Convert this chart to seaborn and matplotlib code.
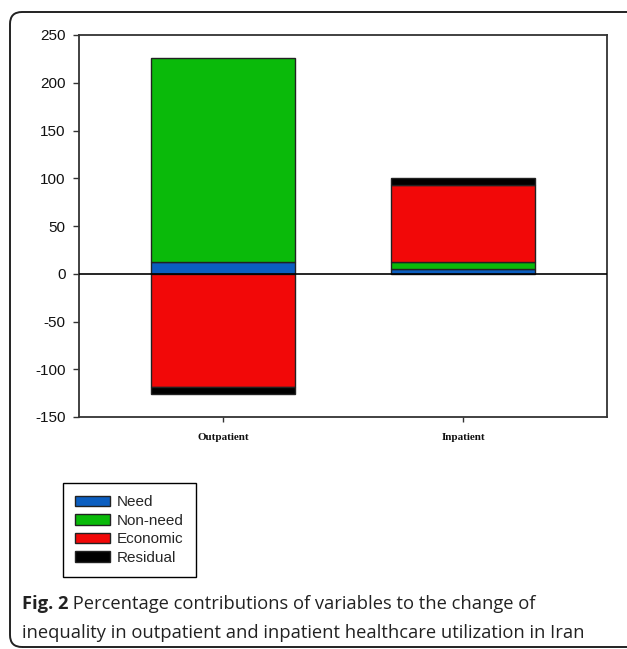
import pandas as pd
import matplotlib
matplotlib.use("Agg")
import matplotlib.pyplot as plt
from matplotlib.patches import Patch, FancyBboxPatch
import seaborn as sns

# values (percentage contributions)
services = ["Outpatient", "Inpatient"]
need = [12, 5]
non_need = [214, 7]
economic = [-119, 81]
residual = [-7, 7]

components = ["Need", "Non-need", "Economic", "Residual"]
colours = ["#0B5EC0", "#0ABA0A", "#F20808", "#000000"]
y_ticks = [-150, -100, -50, 0, 50, 100, 150, 200, 250]
caption_bold = "Fig. 2"
caption_line1 = " Percentage contributions of variables to the change of"
caption_line2 = "inequality in outpatient and inpatient healthcare utilization in Iran"

W, H = 627, 649


def main():
    df = pd.DataFrame({"service": services, "Need": need, "Non-need": non_need,
                       "Economic": economic, "Residual": residual})
    long = df.melt(id_vars="service", var_name="component", value_name="value")

    # stack positives upward and negatives downward
    long["bottom"] = 0.0
    for s in services:
        pos, neg = 0.0, 0.0
        for idx in long.index[long["service"] == s]:
            v = long.at[idx, "value"]
            if v >= 0:
                long.at[idx, "bottom"] = pos
                pos += v
            else:
                long.at[idx, "bottom"] = neg
                neg += v

    sns.set_style("white")
    plt.rcParams["axes.unicode_minus"] = False
    fig = plt.figure(figsize=(W / 100, H / 100), dpi=100)
    ax = fig.add_axes([79 / W, 1 - 417 / H, (607 - 79) / W, (417 - 35) / H])

    for comp, col in zip(components, colours):
        sub = long[long["component"] == comp]
        sns.barplot(data=sub, x="service", y="value", order=services,
                    bottom=sub["bottom"].values, color=col, width=0.6,
                    errorbar=None, edgecolor="#222222", linewidth=1.0,
                    saturation=1, ax=ax, zorder=2)

    ax.axhline(0, color="black", lw=1.2, zorder=3)
    ax.set_xlim(-0.6, 1.6)
    ax.set_ylim(-150, 250)
    ax.set_yticks(y_ticks)
    ax.set_xlabel("")
    ax.set_ylabel("")

    for sp in ax.spines.values():
        sp.set_visible(True)
        sp.set_color("#333333")
        sp.set_linewidth(1.3)

    ax.tick_params(axis="y", direction="out", length=4.5, width=1.0, color="#333333",
                   pad=5, left=True)
    ax.tick_params(axis="x", direction="out", length=3.5, width=1.0, color="#333333",
                   pad=8, bottom=True)
    for lab in ax.get_yticklabels():
        lab.set_fontfamily("Liberation Sans")
        lab.set_fontsize(11)
        lab.set_color("#111111")
    for lab in ax.get_xticklabels():
        lab.set_fontfamily("Liberation Serif")
        lab.set_fontweight("bold")
        lab.set_fontsize(8)
        lab.set_color("#111111")

    handles = [Patch(facecolor=c, edgecolor="#222222", linewidth=1.0) for c in colours]
    fig.legend(handles, components, loc="upper left",
               bbox_to_anchor=(63 / W, 1 - 483 / H), borderaxespad=0,
               fancybox=False, edgecolor="black", framealpha=1,
               prop={"family": "Liberation Sans", "size": 11},
               handlelength=2.3, handleheight=0.7, handletextpad=0.45,
               labelspacing=0.3, borderpad=0.8)
    fig.legends[0].get_frame().set_linewidth(1.0)

    # rounded outer frame around the figure
    frame = FancyBboxPatch((10, 2), 700, H - 12 - 2, boxstyle="round,pad=0,rounding_size=12",
                           transform=None, facecolor="none", edgecolor="#222222", linewidth=1.4)
    fig.add_artist(frame)

    cap_font = {"family": "Open Sans", "size": 13.2, "color": "#222222"}
    t_bold = fig.text(22 / W, 1 - 604 / H, caption_bold, fontweight="bold", va="center",
                      **cap_font)
    fig.canvas.draw()
    bb = t_bold.get_window_extent()
    fig.text(bb.x1 / W, 1 - 604 / H, caption_line1, va="center", **cap_font)
    fig.text(22 / W, 1 - 633 / H, caption_line2, va="center", **cap_font)

    fig.savefig("out.png", dpi=100)


if __name__ == "__main__":
    main()
